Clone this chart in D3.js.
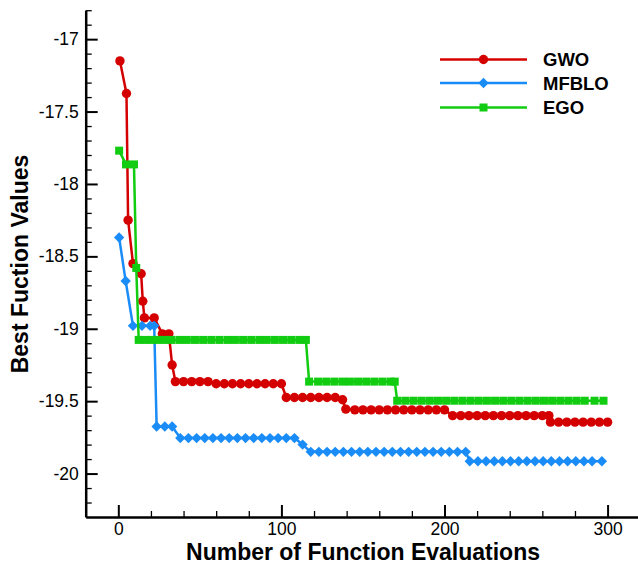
<!DOCTYPE html>
<html>
<head>
<meta charset="utf-8">
<script src="https://cdn.jsdelivr.net/npm/d3@7"></script>
<style>
  body { margin: 0; background: #ffffff; }
  svg { display: block; }
</style>
</head>
<body>
<svg id="chart" width="638" height="564"></svg>
<script>
// ---- data ---------------------------------------------------------------
const seriesNames = ["GWO", "MFBLO", "EGO"];

const gwoEvals = [1, 5, 6, 9, 14, 15, 16, 22, 27, 31, 33, 35, 40, 45, 50, 55,
  60, 65, 70, 75, 80, 85, 90, 95, 100,
  103, 108, 113, 118, 123, 128, 133, 137.5, 139.5,
  145, 150, 155, 160, 165, 170, 175, 180, 185, 190, 195, 200,
  205, 210, 215, 220, 225, 230, 235, 240, 245, 250, 255, 260, 264,
  265, 270, 275, 280, 285, 290, 295, 300];
const gwoValues = [-17.15, -17.375, -18.25, -18.55, -18.62, -18.81, -18.925, -18.925,
  -19.035, -19.035, -19.25, -19.365, -19.365, -19.365, -19.365, -19.365,
  -19.38, -19.38, -19.38, -19.38, -19.38, -19.38, -19.38, -19.38, -19.38,
  -19.475, -19.475, -19.475, -19.475, -19.475, -19.475, -19.475, -19.49, -19.555,
  -19.56, -19.56, -19.56, -19.56, -19.56, -19.56, -19.56, -19.56, -19.56, -19.56, -19.56, -19.56,
  -19.6, -19.6, -19.6, -19.6, -19.6, -19.6, -19.6, -19.6, -19.6, -19.6, -19.6, -19.6, -19.6,
  -19.645, -19.645, -19.645, -19.645, -19.645, -19.645, -19.645, -19.645];

const mfbloEvals = [0.5, 4.5, 9, 14.5, 19.5, 22, 23.5, 28.5, 33,
  38, 43, 48, 53, 58, 63, 68, 73, 78, 83, 88, 93, 98, 103, 108,
  113,
  118, 123, 128, 133, 138, 143, 148, 153, 158, 163, 168, 173, 178, 183, 188, 193, 198, 203, 208, 213,
  215.5, 220.5, 225.5, 230.5, 235.5, 240.5, 245.5, 250.5, 255.5, 260.5, 265.5, 270.5, 275.5, 280.5,
  285.5, 290.5, 296.5];
const mfbloValues = [-18.37, -18.67, -18.98, -18.98, -18.98, -18.98, -19.675, -19.675, -19.675,
  -19.755, -19.755, -19.755, -19.755, -19.755, -19.755, -19.755, -19.755, -19.755, -19.755,
  -19.755, -19.755, -19.755, -19.755, -19.755,
  -19.8,
  -19.85, -19.85, -19.85, -19.85, -19.85, -19.85, -19.85, -19.85, -19.85, -19.85,
  -19.85, -19.85, -19.85, -19.85, -19.85, -19.85, -19.85, -19.85, -19.85, -19.85,
  -19.915, -19.915, -19.915, -19.915, -19.915, -19.915, -19.915, -19.915, -19.915,
  -19.915, -19.915, -19.915, -19.915, -19.915, -19.915, -19.915, -19.915];

const egoEvals = [0.5, 4.7, 9.6, 11,
  12.5, 16.5, 20.5, 24.5, 28.5, 32.5, 37.5, 42, 47, 52, 57, 62, 67, 71.5, 76.5, 81.5,
  86.5, 91, 96, 101, 106, 111, 115,
  117, 122.5, 127.5, 132.5, 137.5, 142, 147, 152, 157, 162, 167, 169.5,
  171, 176, 181, 186, 191, 196, 201, 206, 211, 216, 221, 226, 231, 236, 241, 246,
  251, 256, 261, 266, 271, 276, 281, 286, 292, 297.5];
const egoValues = [-17.77, -17.865, -17.865, -18.58,
  -19.077, -19.077, -19.077, -19.077, -19.077, -19.077, -19.077, -19.077, -19.077, -19.077,
  -19.077, -19.077, -19.077, -19.077, -19.077, -19.077, -19.077, -19.077, -19.077, -19.077,
  -19.077, -19.077, -19.077,
  -19.365, -19.365, -19.365, -19.365, -19.365, -19.365, -19.365, -19.365, -19.365,
  -19.365, -19.365, -19.365,
  -19.497, -19.497, -19.497, -19.497, -19.497, -19.497, -19.497, -19.497, -19.497,
  -19.497, -19.497, -19.497, -19.497, -19.497, -19.497, -19.497, -19.497, -19.497,
  -19.497, -19.497, -19.497, -19.497, -19.497, -19.497, -19.497, -19.497];

const xMajorTicks = [0, 100, 200, 300];
const xMinorTicks = [20, 40, 60, 80, 120, 140, 160, 180, 220, 240, 260, 280];
const yMajorTicks = [-20, -19.5, -19, -18.5, -18, -17.5, -17];
const yMinorTicks = [-20.2, -20.1, -19.9, -19.8, -19.7, -19.6, -19.4, -19.3, -19.2, -19.1,
  -18.9, -18.8, -18.7, -18.6, -18.4, -18.3, -18.2, -18.1, -17.9, -17.8, -17.7, -17.6,
  -17.4, -17.3, -17.2, -17.1, -16.9, -16.8];

const xTitle = "Number of Function Evaluations";
const yTitle = "Best Fuction Values";

// ---- layout ---------------------------------------------------------------
const FONT = "'Liberation Sans', Arial, Helvetica, sans-serif";
const colors = { GWO: "#d40000", MFBLO: "#1a8cf7", EGO: "#11cc11" };

const svg = d3.select("#chart");
const x = d3.scaleLinear().domain([-20, 320]).range([85.7, 640.2]);
const y = d3.scaleLinear().domain([-20.3, -16.8]).range([517, 10.2]);

const series = [
  { name: "GWO", shape: "circle", pts: gwoEvals.map((e, i) => ({ e, v: gwoValues[i] })) },
  { name: "MFBLO", shape: "diamond", pts: mfbloEvals.map((e, i) => ({ e, v: mfbloValues[i] })) },
  { name: "EGO", shape: "square", pts: egoEvals.map((e, i) => ({ e, v: egoValues[i] })) }
];

// ---- axes ---------------------------------------------------------------
const fmt = d => String(d);

const gx = svg.append("g").attr("transform", `translate(0,${y(-20.3)})`);
gx.call(d3.axisBottom(x).tickValues(xMajorTicks).tickFormat(fmt)
  .tickSizeInner(-12).tickSizeOuter(0).tickPadding(6));
const gxm = svg.append("g").attr("transform", `translate(0,${y(-20.3)})`);
gxm.call(d3.axisBottom(x).tickValues(xMinorTicks).tickFormat("")
  .tickSizeInner(-6).tickSizeOuter(0));
gxm.select(".domain").remove();

const gy = svg.append("g").attr("transform", `translate(${x(-20)},0)`);
gy.call(d3.axisLeft(y).tickValues(yMajorTicks).tickFormat(fmt)
  .tickSizeInner(-12).tickSizeOuter(0).tickPadding(7));
const gym = svg.append("g").attr("transform", `translate(${x(-20)},0)`);
gym.call(d3.axisLeft(y).tickValues(yMinorTicks).tickFormat("")
  .tickSizeInner(-6).tickSizeOuter(0));
gym.select(".domain").remove();

svg.selectAll(".domain").attr("stroke", "#000").attr("stroke-width", 2.5);
[gx, gy].forEach(g => g.selectAll(".tick line").attr("stroke", "#000").attr("stroke-width", 2));
[gxm, gym].forEach(g => g.selectAll(".tick line").attr("stroke", "#000").attr("stroke-width", 1.3));
svg.selectAll(".tick text")
  .attr("font-family", FONT).attr("font-size", 17.5).attr("fill", "#000");

// axis titles
svg.append("text")
  .attr("x", 363).attr("y", 560)
  .attr("text-anchor", "middle")
  .attr("font-family", FONT).attr("font-weight", "bold").attr("font-size", 23)
  .text(xTitle);
svg.append("text")
  .attr("transform", "translate(28,264) rotate(-90)")
  .attr("text-anchor", "middle")
  .attr("font-family", FONT).attr("font-weight", "bold").attr("font-size", 23)
  .text(yTitle);

// ---- series ---------------------------------------------------------------
const line = d3.line().x(d => x(d.e)).y(d => y(d.v));

function drawMarker(sel, shape, color) {
  if (shape === "circle") {
    sel.append("circle").attr("r", 4.7).attr("fill", color);
  } else if (shape === "diamond") {
    sel.append("path")
      .attr("d", d3.symbol(d3.symbolSquare, 54)())
      .attr("transform", "rotate(45)")
      .attr("fill", color);
  } else {
    sel.append("path")
      .attr("d", d3.symbol(d3.symbolSquare, 64)())
      .attr("fill", color);
  }
}

series.forEach(s => {
  const c = colors[s.name];
  const g = svg.append("g").attr("class", "series-" + s.name);
  g.append("path").datum(s.pts)
    .attr("d", line)
    .attr("fill", "none").attr("stroke", c).attr("stroke-width", 2.5)
    .attr("stroke-linejoin", "round");
  g.selectAll("g.mark").data(s.pts).join("g")
    .attr("class", "mark")
    .attr("transform", d => `translate(${x(d.e)},${y(d.v)})`)
    .each(function () { drawMarker(d3.select(this), s.shape, c); });
});

// ---- legend ---------------------------------------------------------------
const legendRows = [59.5, 83, 107.5];
const legend = svg.append("g");
series.forEach((s, i) => {
  const c = colors[s.name];
  const row = legend.append("g").attr("transform", `translate(0,${legendRows[i]})`);
  row.append("line").attr("x1", 440).attr("x2", 527).attr("y1", 0).attr("y2", 0)
    .attr("stroke", c).attr("stroke-width", 2.5);
  const m = row.append("g").attr("transform", "translate(483.5,0)");
  drawMarker(m, s.shape, c);
  row.append("text").attr("x", 543).attr("y", 6.5)
    .attr("font-family", FONT).attr("font-weight", "bold").attr("font-size", 18.5)
    .attr("fill", "#000")
    .text(seriesNames[i]);
});
</script>
</body>
</html>
